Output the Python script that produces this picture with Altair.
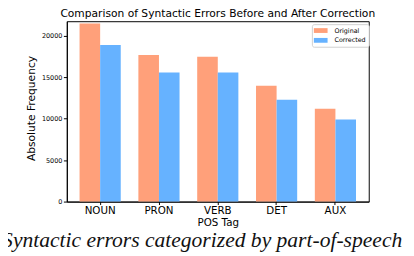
import altair as alt
import pandas as pd

pos_tags = ["NOUN", "PRON", "VERB", "DET", "AUX"]
original = [21500, 17700, 17500, 14000, 11200]
corrected = [18900, 15600, 15600, 12300, 9900]
series = ["Original", "Corrected"]
colors = ["#FFA07A", "#66B2FF"]
y_ticks = [0, 5000, 10000, 15000, 20000]
caption = ["Syntactic errors categorized by part-of-speech"]

rows = []
for i, p in enumerate(pos_tags):
    rows.append({"POS": p, "Type": "Original", "Count": original[i]})
    rows.append({"POS": p, "Type": "Corrected", "Count": corrected[i]})
df = pd.DataFrame(rows)

bars = alt.Chart(df).mark_bar().encode(
    x=alt.X("POS:N", sort=pos_tags,
            scale=alt.Scale(paddingInner=0.3, paddingOuter=0.2167),
            axis=alt.Axis(title="POS Tag", labelAngle=0, labelFontSize=10.5,
                          titleFontSize=10.5, tickSize=3, labelPadding=1.5,
                          titlePadding=1.5)),
    xOffset=alt.XOffset("Type:N", sort=series,
                        scale=alt.Scale(paddingInner=0, paddingOuter=0)),
    y=alt.Y("Count:Q", scale=alt.Scale(domain=[0, 21775], nice=False),
            axis=alt.Axis(values=y_ticks, format="d", title="Absolute Frequency", grid=False,
                          labelFontSize=6.6, tickSize=3.5, labelPadding=1.5,
                          titleFontSize=10.9, titleAngle=270, titleX=-36, titleY=88.5,
                          titleAlign="center", titleBaseline="middle")),
    color=alt.Color("Type:N", sort=series,
                    scale=alt.Scale(domain=series, range=colors),
                    legend=alt.Legend(title=None, orient="none", legendX=250, legendY=3,
                                      symbolType="M-2,-0.7H2V0.7H-2Z", symbolSize=49,
                                      symbolStrokeWidth=0, symbolOffset=2.5,
                                      labelFontSize=6.5, labelOffset=10.5,
                                      padding=3, rowPadding=3,
                                      strokeColor="#d0d0d0", fillColor="white",
                                      cornerRadius=2)),
)

cap_df = pd.DataFrame({"text": caption})
cap = alt.Chart(cap_df).mark_text(
    font="Liberation Serif", fontStyle="italic", fontSize=22,
    align="left", baseline="alphabetic", color="#111111"
).encode(text="text:N", x=alt.value(-66), y=alt.value(230))

chart = alt.layer(bars, cap).properties(
    width=308, height=184,
    title=alt.TitleParams("Comparison of Syntactic Errors Before and After Correction",
                          fontSize=10.9, font="DejaVu Sans", fontWeight="normal",
                          color="black", anchor="middle", offset=2),
    autosize=alt.AutoSizeParams(type="none"),
    padding={"left": 60, "top": 11, "right": 38, "bottom": 53},
).configure_view(stroke="black", strokeWidth=1).configure_axis(
    labelFont="DejaVu Sans", titleFont="DejaVu Sans", labelColor="black",
    titleColor="black", domainColor="black", tickColor="black",
    titleFontWeight="normal", domainWidth=1, tickWidth=1
).configure_legend(labelFont="DejaVu Sans", labelColor="black")

chart.save("out.html", embed_options={"renderer": "svg", "actions": False})
